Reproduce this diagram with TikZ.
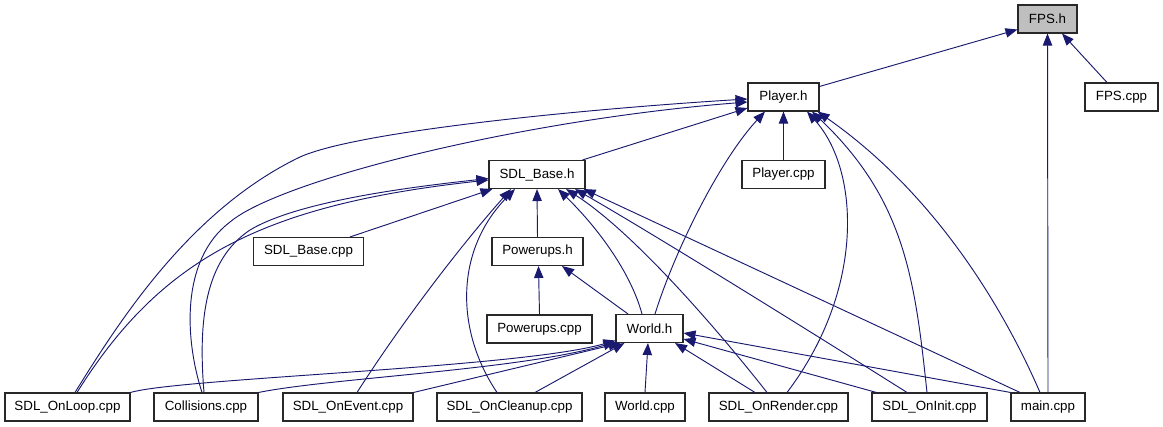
\documentclass[tikz,border=0pt]{standalone}
\usepackage{fontspec}
\setmainfont{Liberation Sans}
\usetikzlibrary{arrows.meta}
\definecolor{midnight}{RGB}{25,25,112}
\definecolor{greyfill}{RGB}{191,191,191}
\definecolor{boxline}{RGB}{40,40,40}
\begin{document}
\begin{tikzpicture}[x=0.75pt,y=-0.75pt,
  box/.style={draw=boxline, line width=0.8pt, fill=white, inner sep=0pt, minimum height=21pt,
    font=\fontsize{10}{12}\selectfont},
  edge/.style={draw=midnight, line width=0.7pt, -{Triangle[length=9pt,width=7pt]}}]
\useasboundingbox (0,0) rectangle (1163,427);
\fill[white] (0,0) rectangle (1163,427);

% nodes
\node[box, fill=greyfill, minimum width=59*0.75pt] (fpsh) at (1047.5,19) {FPS.h};
\node[box, minimum width=73*0.75pt] (fpscpp) at (1121.5,97) {FPS.cpp};
\node[box, minimum width=71*0.75pt] (playerh) at (783.5,97) {Player.h};
\node[box, minimum width=83*0.75pt] (playercpp) at (783.5,174.5) {Player.cpp};
\node[box, minimum width=96*0.75pt] (sdlbaseh) at (537,174.5) {SDL\_Base.h};
\node[box, minimum width=110*0.75pt] (sdlbasecpp) at (308.5,251.5) {SDL\_Base.cpp};
\node[box, minimum width=91*0.75pt] (powerupsh) at (537.5,251.5) {Powerups.h};
\node[box, minimum width=105*0.75pt] (powerupscpp) at (539.5,329) {Powerups.cpp};
\node[box, minimum width=67*0.75pt] (worldh) at (649.5,328.5) {World.h};
\node[box, minimum width=125*0.75pt] (onloop) at (67.5,407) {SDL\_OnLoop.cpp};
\node[box, minimum width=104*0.75pt] (collisions) at (206,407) {Collisions.cpp};
\node[box, minimum width=130*0.75pt] (onevent) at (348,407) {SDL\_OnEvent.cpp};
\node[box, minimum width=145*0.75pt] (oncleanup) at (509.5,407) {SDL\_OnCleanup.cpp};
\node[box, minimum width=80*0.75pt] (worldcpp) at (645,407) {World.cpp};
\node[box, minimum width=139*0.75pt] (onrender) at (778.5,407) {SDL\_OnRender.cpp};
\node[box, minimum width=115*0.75pt] (oninit) at (929.5,407) {SDL\_OnInit.cpp};
\node[box, minimum width=74*0.75pt] (maincpp) at (1048,407) {main.cpp};

% edges to FPS.h
\draw[edge] ([shift={(0,4)}]playerh.north east) -- ([shift={(0,-4)}]fpsh.south west);
\draw[edge] ([shift={(-14.5,0)}]fpscpp.north) -- ([shift={(14.5,0)}]fpsh.south);
\draw[edge] (maincpp.north) -- (fpsh.south);

% edges to Player.h
\draw[edge] (playercpp.north) -- (playerh.south);
\draw[edge] ([shift={(-3,0)}]sdlbaseh.north east) -- ([shift={(0,11)}]playerh.west);
\draw[edge] ([shift={(7.5,0)}]onloop.north) .. controls (120,320) and (190,210) .. (300,157)
  .. controls (360,130) and (600,108) .. ([shift={(0,2)}]playerh.west);
\draw[edge] ([shift={(-4,0)}]collisions.north) .. controls (185,340) and (180,260) .. (230,222)
  .. controls (280,180) and (520,120) .. ([shift={(0,5)}]playerh.west);
\draw[edge] ([shift={(5.5,0)}]worldh.north) .. controls (675,250) and (720,160) .. ([shift={(-18.5,0)}]playerh.south);
\draw[edge] ([shift={(8.5,0)}]onrender.north) .. controls (865,290) and (860,170) .. ([shift={(23.5,0)}]playerh.south);
\draw[edge] ([shift={(-2.5,0)}]oninit.north) .. controls (915,280) and (905,200) .. ([shift={(28.5,0)}]playerh.south);
\draw[edge] ([shift={(-8,0)}]maincpp.north) .. controls (1000,300) and (930,190) .. ([shift={(-2,0)}]playerh.south east);

% edges to SDL_Base.h
\draw[edge] ([shift={(41.5,0)}]sdlbasecpp.north) -- ([shift={(4,0)}]sdlbaseh.south west);
\draw[edge] ([shift={(9.5,0)}]onloop.north) .. controls (160,260) and (260,205) .. ([shift={(0,5.5)}]sdlbaseh.west);
\draw[edge] ([shift={(-2,0)}]collisions.north) .. controls (198,320) and (205,260) .. (250,230)
  .. controls (300,200) and (420,186) .. ([shift={(0,4)}]sdlbaseh.west);
\draw[edge] ([shift={(9,0)}]onevent.north) .. controls (410,310) and (470,235) .. ([shift={(-26,0)}]sdlbaseh.south);
\draw[edge] ([shift={(-12.5,0)}]oncleanup.north) .. controls (455,330) and (455,250) .. ([shift={(-22,0)}]sdlbaseh.south);
\draw[edge] (powerupsh.north) -- (sdlbaseh.south);
\draw[edge] ([shift={(-7.5,0)}]worldh.north) .. controls (630,270) and (595,225) .. ([shift={(21,0)}]sdlbaseh.south);
\draw[edge] ([shift={(-11.5,0)}]onrender.north) .. controls (710,320) and (630,230) .. ([shift={(29,0)}]sdlbaseh.south);
\draw[edge] ([shift={(-22.5,0)}]oninit.north) .. controls (800,325) and (650,232) .. ([shift={(38,0)}]sdlbaseh.south);
\draw[edge] ([shift={(-28,0)}]maincpp.north) -- ([shift={(-2,0)}]sdlbaseh.south east);

% edges to Powerups.h
\draw[edge] (powerupscpp.north) -- ([shift={(1,0)}]powerupsh.south);
\draw[edge] ([shift={(-21.5,0)}]worldh.north) -- ([shift={(24.5,0)}]powerupsh.south);

% edges to World.h
\draw[edge] (onloop.north east) .. controls (180,378) and (520,368) .. ([shift={(0,-2.5)}]worldh.south west);
\draw[edge] (collisions.north east) .. controls (330,378) and (520,370) .. ([shift={(0,-1)}]worldh.south west);
\draw[edge] (onevent.north east) -- ([shift={(5,0)}]worldh.south west);
\draw[edge] ([shift={(25.5,0)}]oncleanup.north) -- ([shift={(9,0)}]worldh.south west);
\draw[edge] (worldcpp.north) -- ([shift={(-1.5,0)}]worldh.south);
\draw[edge] ([shift={(-23.5,0)}]onrender.north) -- ([shift={(25.5,0)}]worldh.south);
\draw[edge] ([shift={(5,0)}]oninit.north west) -- ([shift={(0,10.5)}]worldh.east);
\draw[edge] (maincpp.north west) -- ([shift={(0,4.5)}]worldh.east);
\end{tikzpicture}
\end{document}
